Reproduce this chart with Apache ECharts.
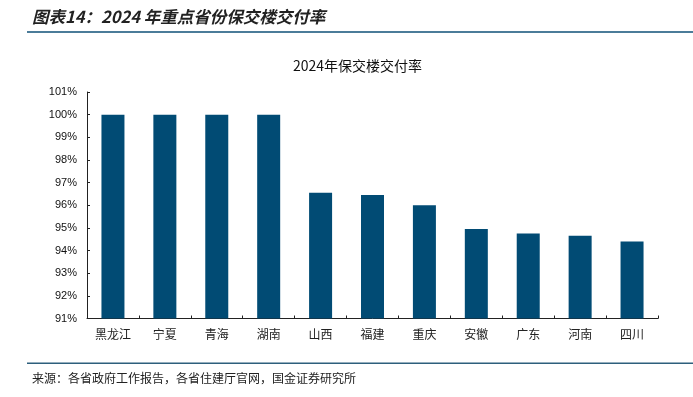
<!DOCTYPE html>
<html>
<head>
<meta charset="utf-8">
<script src="https://cdn.jsdelivr.net/npm/echarts@6/dist/echarts.min.js"></script>
<style>
  html, body { margin: 0; padding: 0; background: #fff; }
  #chart { width: 693px; height: 397px; }
</style>
</head>
<body>
<div id="chart"></div>
<script>
// 省份与交付率（%）
const provinces = ['黑龙江', '宁夏', '青海', '湖南', '山西', '福建', '重庆', '安徽', '广东', '河南', '四川']
const deliveryRate = [100, 100, 100, 100, 96.55, 96.45, 96.0, 94.95, 94.75, 94.65, 94.4]
const yMin = 91
const yMax = 101

const cjk = '"Noto Sans CJK SC", sans-serif'
const latin = '"Liberation Sans", Arial, sans-serif'

var myChart = echarts.init(document.getElementById('chart'))
myChart.setOption({
    animation: false,
    title: {
        text: '2024年保交楼交付率',
        left: 288,
        top: 54,
        textStyle: { fontFamily: cjk, fontSize: 14, fontWeight: 'normal', color: '#111' }
    },
    grid: { left: 87, right: 35, top: 92, bottom: 78.5 },
    xAxis: {
        type: 'category',
        data: provinces,
        axisLine: { lineStyle: { color: '#222', width: 1 } },
        axisTick: { show: true, inside: true, length: 3, alignWithLabel: false, lineStyle: { color: '#222' } },
        axisLabel: { fontFamily: cjk, fontSize: 12, color: '#222', margin: 10 }
    },
    yAxis: {
        type: 'value',
        min: yMin,
        max: yMax,
        interval: 1,
        splitLine: { show: false },
        axisLine: { show: true, lineStyle: { color: '#222', width: 1 } },
        axisTick: { show: true, inside: true, length: 3, lineStyle: { color: '#222' } },
        axisLabel: { formatter: '{value}%', fontFamily: latin, fontSize: 11, color: '#111', margin: 10 }
    },
    series: [
        {
            name: '交付率',
            type: 'bar',
            data: deliveryRate,
            barWidth: 23,
            itemStyle: { color: '#014b74' }
        }
    ],
    graphic: [
        {
            type: 'text',
            left: 32,
            top: 8,
            style: {
                text: '图表14：2024 年重点省份保交楼交付率',
                font: 'italic bold 16.5px "Noto Sans CJK SC", sans-serif',
                fill: '#222'
            }
        },
        {
            type: 'rect',
            shape: { x: 27, y: 31, width: 666, height: 2 },
            style: { fill: '#4b7c99' }
        },
        {
            type: 'rect',
            shape: { x: 27, y: 362.5, width: 666, height: 1.5 },
            style: { fill: '#2d5f7c' }
        },
        {
            type: 'text',
            left: 32,
            top: 372,
            style: {
                text: '来源：各省政府工作报告，各省住建厅官网，国金证券研究所',
                font: '12px "Noto Sans CJK SC", sans-serif',
                fill: '#222'
            }
        }
    ]
})
</script>
</body>
</html>
